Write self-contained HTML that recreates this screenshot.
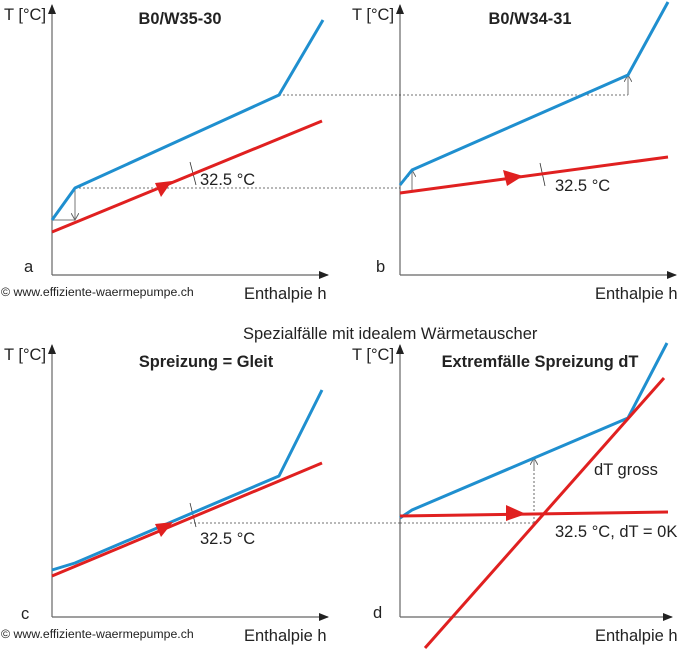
<!DOCTYPE html>
<html><head><meta charset="utf-8"><style>
html,body{margin:0;padding:0;background:#fff}
svg{display:block}
text{font-family:"Liberation Sans",Arial,sans-serif;fill:#222}
</style></head><body>
<svg width="678" height="650" viewBox="0 0 678 650" xmlns="http://www.w3.org/2000/svg">
<defs>
<marker id="ax" markerWidth="10" markerHeight="8" refX="9" refY="4" orient="auto" markerUnits="userSpaceOnUse"><path d="M0,0 L10,4 L0,8 Z" fill="#222"/></marker>
<marker id="ga" markerWidth="8" markerHeight="8" refX="7" refY="4" orient="auto" markerUnits="userSpaceOnUse"><path d="M0,0 L7,4 L0,8" fill="none" stroke="#666" stroke-width="1"/></marker>
</defs>
<g stroke="#666" stroke-width="1.2" fill="none">
<line x1="52" y1="275" x2="52" y2="5" marker-end="url(#ax)"/>
<line x1="52" y1="275" x2="328" y2="275" marker-end="url(#ax)"/>
<line x1="400" y1="275" x2="400" y2="5" marker-end="url(#ax)"/>
<line x1="400" y1="275" x2="676" y2="275" marker-end="url(#ax)"/>
<line x1="52" y1="617" x2="52" y2="345" marker-end="url(#ax)"/>
<line x1="52" y1="617" x2="328" y2="617" marker-end="url(#ax)"/>
<line x1="400" y1="617" x2="400" y2="345" marker-end="url(#ax)"/>
<line x1="400" y1="617" x2="672" y2="617" marker-end="url(#ax)"/>
</g>
<g stroke="#444" stroke-width="0.8" stroke-dasharray="2,2" fill="none">
<line x1="75" y1="188" x2="400" y2="188"/>
<line x1="279" y1="95" x2="628" y2="95"/>
<line x1="190" y1="523" x2="400" y2="523"/>
<line x1="400" y1="523" x2="534" y2="523"/>
<line x1="534" y1="523" x2="534" y2="460"/>
</g>
<g stroke="#777" stroke-width="1" fill="none">
<line x1="52" y1="220" x2="75" y2="220"/>
<line x1="75" y1="190" x2="75" y2="220" marker-end="url(#ga)"/>
<line x1="412" y1="190" x2="412" y2="170" marker-end="url(#ga)"/>
<line x1="628" y1="95" x2="628" y2="75" marker-end="url(#ga)"/>
<line x1="534" y1="470" x2="534" y2="458" marker-end="url(#ga)"/>
</g>
<g stroke="#333" stroke-width="0.8">
<line x1="190" y1="162" x2="196" y2="185"/>
<line x1="540" y1="163" x2="545" y2="186"/>
<line x1="190" y1="503" x2="196" y2="527"/>
</g>
<g stroke="#1f8fcf" stroke-width="3" fill="none" stroke-linejoin="round">
<polyline points="52,220 75,188 279,95 323,20"/>
<polyline points="400,185 412,170 628,75 668,2"/>
<polyline points="52,570 75,563 279,476 322,390"/>
<polyline points="400,518 412,510 628,418 667,343"/>
</g>
<g stroke="#e02020" stroke-width="3" fill="none">
<line x1="52" y1="232" x2="322" y2="121"/>
<line x1="400" y1="193" x2="668" y2="157"/>
<line x1="52" y1="576" x2="322" y2="463"/>
<line x1="400" y1="516" x2="668" y2="512"/>
<line x1="425" y1="648" x2="664" y2="378"/>
</g>
<g fill="#e02020">
<polygon points="155,183 172,181 161,197"/>
<polygon points="503,170 523,176 507,186"/>
<polygon points="155,524 173,522 161,537"/>
<polygon points="506,505 526,514 506,521"/>
</g>
<g font-size="16.5">
<text x="4" y="20">T [°C]</text>
<text x="352" y="20">T [°C]</text>
<text x="4" y="360">T [°C]</text>
<text x="352" y="360">T [°C]</text>
<text x="244" y="299">Enthalpie h</text>
<text x="595" y="299">Enthalpie h</text>
<text x="244" y="641">Enthalpie h</text>
<text x="595" y="641">Enthalpie h</text>
<text x="200" y="185">32.5 °C</text>
<text x="555" y="191">32.5 °C</text>
<text x="200" y="544">32.5 °C</text>
<text x="555" y="537">32.5 °C, dT = 0K</text>
<text x="594" y="475">dT gross</text>
<text x="24" y="272">a</text>
<text x="376" y="272">b</text>
<text x="21" y="619">c</text>
<text x="373" y="618">d</text>
<text x="243" y="339">Spezialfälle mit idealem Wärmetauscher</text>
</g>
<g font-size="16.4" font-weight="bold" text-anchor="middle">
<text x="180" y="24">B0/W35-30</text>
<text x="530" y="24">B0/W34-31</text>
<text x="206" y="367">Spreizung = Gleit</text>
<text x="540" y="367">Extremfälle Spreizung dT</text>
</g>
<g font-size="12.3">
<text x="1" y="296">© www.effiziente-waermepumpe.ch</text>
<text x="1" y="638">© www.effiziente-waermepumpe.ch</text>
</g>
</svg>
</body></html>
